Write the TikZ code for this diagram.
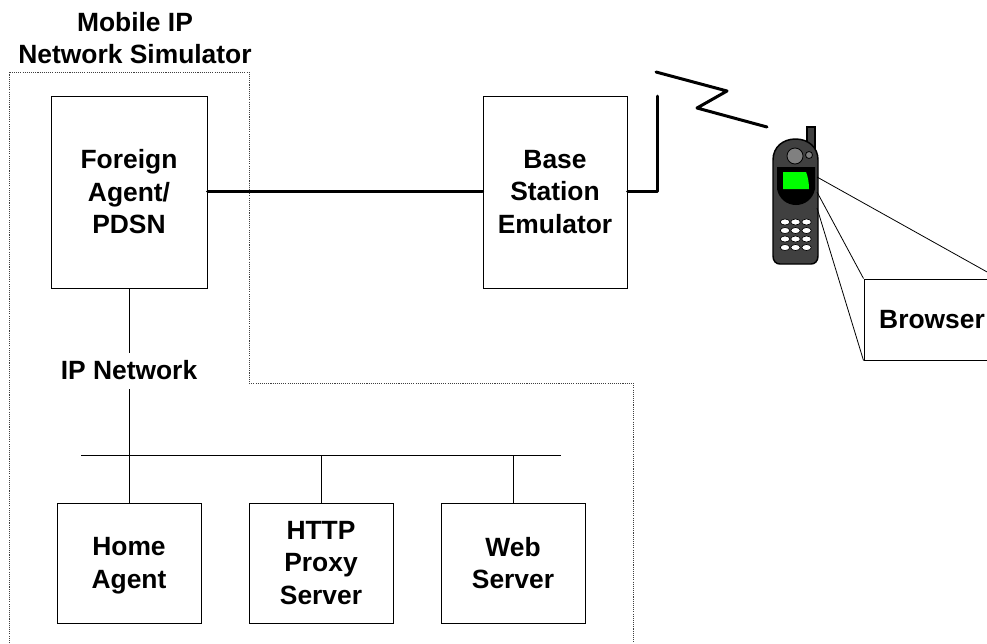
\documentclass[tikz,border=0pt]{standalone}
\usepackage{fontspec}
\setmainfont{Liberation Sans}
\begin{document}
\begin{tikzpicture}[x=0.75pt,y=-0.75pt,
  labeltext/.style={font=\fontsize{19.8}{24.4}\selectfont\bfseries,align=center,inner sep=0pt},
  box/.style={draw=black,line width=0.75pt,fill=white,labeltext,minimum width=#1*0.75pt,minimum height=120*0.75pt},
  tallbox/.style={draw=black,line width=0.75pt,fill=white,labeltext,minimum width=#1*0.75pt,minimum height=192*0.75pt},
  thin link/.style={line width=0.75pt},
  thick link/.style={line width=2.25pt,line cap=round,line join=round},
  fan/.style={line width=0.6pt},
  boundary/.style={draw=black!75,line width=0.7pt,dash pattern=on 0.8pt off 0.8pt},
  key/.style={draw=black,line width=0.5pt,fill=white}]
\useasboundingbox (0,0) rectangle (987,643);
% simulator boundary
\draw[boundary] (9,643) -- (9,72) -- (249,72) -- (249,383) -- (633,383) -- (633,643);
\node[labeltext] (title) at (135,38) {Mobile IP\\Network Simulator};
% boxes
\node[tallbox=156] (fa) at (129,192) {Foreign\\Agent/\\PDSN};
\node[tallbox=144] (bs) at (555,192) {Base\\Station\\Emulator};
\node[box=144] (ha) at (129,563) {Home\\\smash{Agent}};
\node[box=144] (px) at (321,563) {HTTP\\Proxy\\Server};
\node[box=144] (ws) at (513,563) {Web\\Server};
\node[draw=black,line width=0.75pt,labeltext,minimum width=136*0.75pt,minimum height=81*0.75pt] (br) at (932,319.5) {Browser};
% network
\coordinate (busl) at (81,455);
\coordinate (busr) at (561,455);
\coordinate (bus2) at (321,455);
\coordinate (bus3) at (513,455);
\draw[thin link] (busl) -- (busr);
\draw[thin link] (fa.south) -- (ha.north);
\node[labeltext,fill=white,minimum height=36*0.75pt,minimum width=140*0.75pt] (ipn) at (129,370.5) {IP Network};
\draw[thin link] (bus2) -- (px.north);
\draw[thin link] (bus3) -- (ws.north);
% radio link
\coordinate (antc) at (657.5,191.5);
\coordinate (antt) at (657.5,96);
\draw[thick link] (fa.east |- 0,191.5) -- (bs.west |- 0,191.5);
\draw[thick link] (bs.east |- 0,191.5) -- (antc) -- (antt);
\coordinate (z1) at (656,72);
\coordinate (z2) at (727,91);
\coordinate (z3) at (697,108);
\coordinate (z4) at (767,127);
\draw[thick link] (z1) -- (z2) -- (z3) -- (z4);
% phone
\draw[line width=0.9pt,fill=black!75] (807,155) rectangle (815,127);
\draw[line width=1.1pt,fill=black!75] (773,160) .. controls (773,147) and (783,139) .. (795.5,139) .. controls (808,139) and (818,147) .. (818,160) -- (818,256) .. controls (818,261) and (815,264) .. (811,264) -- (780,264) .. controls (776,264) and (773,261) .. (773,256) -- cycle;
\draw[line width=0.6pt,fill=black!50] (795,156) circle[radius=8];
\draw[line width=0.6pt,fill=black!50] (809,155) circle[radius=3.5];
\fill[black] (777,167) -- (815,167) -- (815,189) .. controls (813,199) and (805,205) .. (796,205) .. controls (787,205) and (779,199) .. (777,189) -- cycle;
\fill[green] (783,172) -- (806,172) .. controls (808,177) and (809,183) .. (809,189) -- (783,189) -- cycle;
\foreach \yy in {222,230.5,239,247.5}
  \foreach \xx in {785,795.5,806.5}
    \draw[key] (\xx,\yy) ellipse[x radius=4.8,y radius=3];
\coordinate (ph1) at (817,177);
\coordinate (ph2) at (817,192);
\coordinate (ph3) at (817,208);
\coordinate (brr) at (990,273.6);
\draw[fan] (ph1) -- (brr);
\draw[fan] (ph2) -- (br.north west);
\draw[fan] (ph3) -- (br.south west);
\end{tikzpicture}
\end{document}
